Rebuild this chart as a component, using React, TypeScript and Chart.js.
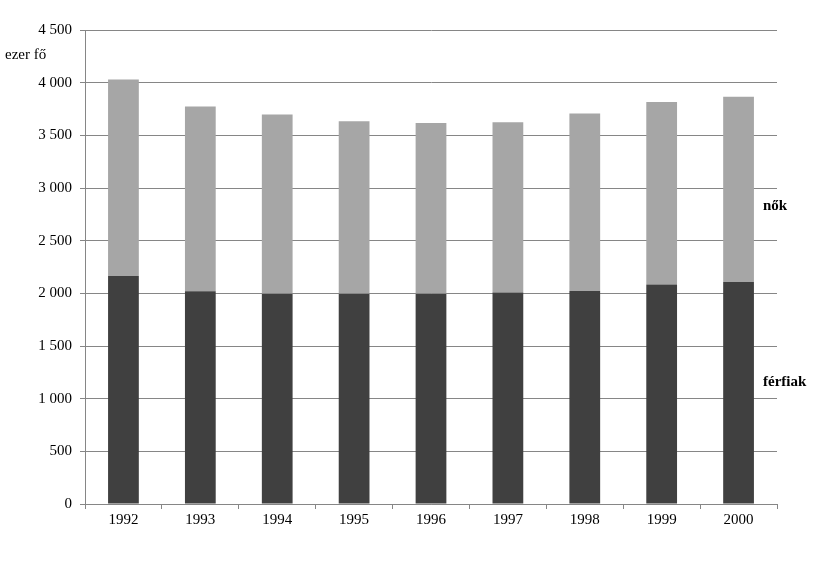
import React, { useEffect, useRef } from "react";
import { Chart, registerables } from "chart.js";

Chart.register(...registerables);

const years = ["1992", "1993", "1994", "1995", "1996", "1997", "1998", "1999", "2000"];
const ferfiak = [2164, 2019, 1997, 1997, 1997, 2007, 2022, 2085, 2107];
const totals = [4030, 3773, 3697, 3634, 3618, 3624, 3707, 3817, 3867];
const nok = totals.map((t, i) => t - ferfiak[i]);
const unitLabel = "ezer fő";
const seriesLabels = ["férfiak", "nők"];
const seriesLabelValues = [1160, 2830];

const FONT = "'Liberation Serif', 'Times New Roman', serif";

const fmt = (v: number) => {
  const s = String(Math.round(v));
  return s.length > 3 ? s.slice(0, s.length - 3) + " " + s.slice(-3) : s;
};

const textPlugin = {
  id: "textPlugin",
  afterDraw(chart: any) {
    const ctx = chart.ctx;
    const area = chart.chartArea;
    const y = chart.scales.y;
    ctx.save();
    ctx.fillStyle = "#000";
    ctx.textBaseline = "middle";
    ctx.textAlign = "left";
    ctx.font = `15px ${FONT}`;
    ctx.fillText(unitLabel, 5, y.getPixelForValue(4260));
    ctx.font = `bold 15px ${FONT}`;
    seriesLabels.forEach((lab, i) => {
      ctx.fillText(lab, area.right - 14, y.getPixelForValue(seriesLabelValues[i]));
    });
    ctx.restore();
  },
};

export default function App() {
  const ref = useRef<HTMLCanvasElement | null>(null);
  useEffect(() => {
    if (!ref.current) return;
    const chart = new Chart(ref.current, {
      type: "bar",
      data: {
        labels: years,
        datasets: [
          { label: seriesLabels[0], data: ferfiak, backgroundColor: "#404040", barPercentage: 0.4, categoryPercentage: 1 },
          { label: seriesLabels[1], data: nok, backgroundColor: "#a6a6a6", barPercentage: 0.4, categoryPercentage: 1 },
        ],
      },
      options: {
        animation: false,
        responsive: false,
        maintainAspectRatio: false,
        layout: { padding: { top: 30, right: 58, left: 0, bottom: 0 } },
        plugins: { legend: { display: false }, tooltip: { enabled: false } },
        scales: {
          x: {
            stacked: true,
            grid: { drawOnChartArea: false, drawTicks: true, tickLength: 5, color: "#868686", offset: true },
            border: { color: "#868686" },
            ticks: { color: "#000", font: { family: FONT, size: 15 }, padding: 2, maxRotation: 0 },
            afterFit: (s: any) => { s.height = 80; },
          },
          y: {
            stacked: true,
            min: 0,
            max: 4500,
            ticks: { stepSize: 500, color: "#000", font: { family: FONT, size: 15 }, padding: 8, callback: (v: any) => fmt(Number(v)) },
            grid: { color: "#868686", tickLength: 5 },
            border: { color: "#868686" },
            afterFit: (s: any) => { s.width = 85; },
          },
        },
      },
      plugins: [textPlugin],
    });
    return () => chart.destroy();
  }, []);
  return (
    <div style={{ position: "fixed", left: 0, top: 0, width: 835, height: 584, background: "#fff" }}>
      <canvas ref={ref} width={835} height={584} style={{ width: 835, height: 584 }} />
    </div>
  );
}
